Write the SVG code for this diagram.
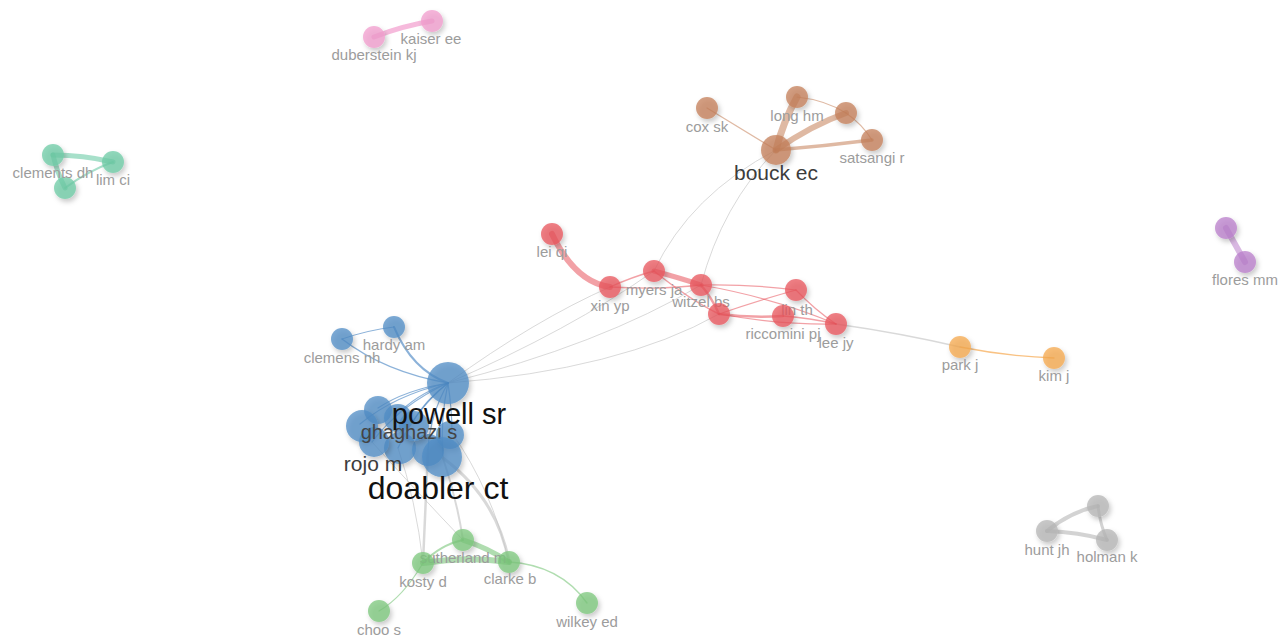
<svg xmlns="http://www.w3.org/2000/svg" width="1285" height="637" viewBox="0 0 1285 637">
<defs>
<filter id="sh" x="-50%" y="-50%" width="200%" height="200%">
<feDropShadow dx="2" dy="3" stdDeviation="2.5" flood-color="#000" flood-opacity="0.28"/>
</filter>
<style>
text{font-family:"Liberation Sans",Arial,sans-serif;text-anchor:middle;fill:#9c9c9c;font-size:15px}
.n{filter:url(#sh);fill-opacity:0.75}
.pk{fill:#f29ccd}.tl{fill:#6dcba6}.br{fill:#c47f58}.rd{fill:#e8545c}.or{fill:#f6a84e}.pu{fill:#b97dcb}.gy{fill:#b5b5b5}.bl{fill:#4f8cc6}.gr{fill:#7bc77b}
path{fill:none;stroke-linecap:round}
.e-pk{stroke:#f29ccd;stroke-opacity:.7}.e-tl{stroke:#6dcba6;stroke-opacity:.6}.e-br{stroke:#c47f58;stroke-opacity:.55}.e-rd{stroke:#e8545c;stroke-opacity:.55}
.e-or{stroke:#f6a84e;stroke-opacity:.7}.e-pu{stroke:#b97dcb;stroke-opacity:.55}.e-gy{stroke:#b5b5b5;stroke-opacity:.6}.e-bl{stroke:#3f7fbf;stroke-opacity:.6}
.e-gr{stroke:#7bc77b;stroke-opacity:.6}.e-x{stroke:#c4c4c4;stroke-opacity:.65}
.big{fill:#111}.mid{fill:#3c3c3c}.gh{fill:#444;font-size:20px}
.t21{font-size:21px}.t29{font-size:29px}.t32{font-size:32px}
</style>
</defs>
<rect width="1285" height="637" fill="#fff"/>
<g id="connectors">
<path class="e-pk" stroke-width="5" d="M374,37 Q402,26 432,21"/>
<path class="e-tl" stroke-width="5" d="M53,155 Q83,155 113,162"/>
<path class="e-tl" stroke-width="5" d="M53,155 Q57,172 65,188"/>
<path class="e-tl" stroke-width="2" d="M65,188 Q88,171 113,162"/>
<path class="e-gy" stroke-width="4" d="M1047,531 Q1070,512 1098,506"/>
<path class="e-gy" stroke-width="3" d="M1098,506 Q1100,524 1107,540"/>
<path class="e-gy" stroke-width="4" d="M1047,531 Q1078,532 1107,540"/>
<path class="e-pu" stroke-width="6" d="M1226,228 L1245,262"/>
<path class="e-or" stroke-width="1.3" d="M960,347 Q1005,356 1054,358"/>
<path class="e-x" stroke-width="1.3" d="M836,324 Q900,333 960,347"/>
<path class="e-x" stroke-width="1" d="M448,383 Q535,320 610,287"/>
<path class="e-x" stroke-width="1" d="M448,383 Q570,330 654,271"/>
<path class="e-x" stroke-width="1" d="M448,383 Q600,345 701,285"/>
<path class="e-x" stroke-width="1" d="M448,383 Q620,370 719,314"/>
<path class="e-x" stroke-width="1" d="M654,271 Q690,195 776,150"/>
<path class="e-x" stroke-width="1" d="M701,285 Q722,205 776,150"/>
<path class="e-br" stroke-width="7" d="M776,150 Q783,122 797,97"/>
<path class="e-br" stroke-width="6" d="M776,150 Q812,125 846,113"/>
<path class="e-br" stroke-width="3.5" d="M776,150 Q825,146 872,140"/>
<path class="e-br" stroke-width="1.2" d="M776,150 Q735,125 707,108"/>
<path class="e-br" stroke-width="1.2" d="M797,97 Q825,100 846,113"/>
<path class="e-br" stroke-width="1.2" d="M846,113 Q862,124 872,140"/>
<path class="e-rd" stroke-width="6" d="M552,234 Q575,282 610,287"/>
<path class="e-rd" stroke-width="1.3" d="M610,287 Q632,277 654,271"/>
<path class="e-rd" stroke-width="1.3" d="M610,287 Q660,290 701,285"/>
<path class="e-rd" stroke-width="5" d="M654,271 Q680,278 701,285"/>
<path class="e-rd" stroke-width="1.5" d="M654,271 Q690,300 719,314"/>
<path class="e-rd" stroke-width="2.5" d="M701,285 Q712,298 719,314"/>
<path class="e-rd" stroke-width="1.2" d="M701,285 Q750,284 796,290"/>
<path class="e-rd" stroke-width="1.2" d="M701,285 Q775,298 836,324"/>
<path class="e-rd" stroke-width="2.5" d="M719,314 Q750,318 783,316"/>
<path class="e-rd" stroke-width="1.2" d="M719,314 Q760,300 796,290"/>
<path class="e-rd" stroke-width="1.2" d="M719,314 Q780,325 836,324"/>
<path class="e-rd" stroke-width="1.5" d="M783,316 Q810,318 836,324"/>
<path class="e-rd" stroke-width="1.2" d="M796,290 Q815,310 836,324"/>
<path class="e-bl" stroke-width="1" d="M342,339 Q368,330 394,327"/>
<path class="e-bl" stroke-width="1.5" d="M342,339 Q385,372 448,383"/>
<path class="e-bl" stroke-width="2" d="M394,327 Q412,370 448,383"/>
<path class="e-bl" stroke-width="1.2" d="M448,383 Q405,390 378,408"/>
<path class="e-bl" stroke-width="1.2" d="M448,383 Q395,395 360,424"/>
<path class="e-bl" stroke-width="1.2" d="M448,383 Q400,405 372,442"/>
<path class="e-bl" stroke-width="1.2" d="M448,383 Q415,395 396,416"/>
<path class="e-bl" stroke-width="1.2" d="M448,383 Q425,400 412,423"/>
<path class="e-bl" stroke-width="1.2" d="M448,383 Q415,410 398,448"/>
<path class="e-bl" stroke-width="1.2" d="M448,383 Q430,415 428,450"/>
<path class="e-bl" stroke-width="1.2" d="M448,383 Q452,410 452,433"/>
<path class="e-bl" stroke-width="1.2" d="M448,383 Q440,420 443,458"/>
<path class="e-x" stroke-width="3" d="M443,458 Q497,498 509,562"/>
<path class="e-x" stroke-width="2" d="M443,458 Q457,500 463,540"/>
<path class="e-x" stroke-width="2.5" d="M428,450 L423,563"/>
<path class="e-x" stroke-width="1" d="M398,448 Q416,500 423,563"/>
<path class="e-x" stroke-width="1" d="M372,442 Q420,495 463,540"/>
<path class="e-x" stroke-width="1" d="M452,433 Q492,490 509,562"/>
<path class="e-gr" stroke-width="2" d="M423,563 Q440,545 463,540"/>
<path class="e-gr" stroke-width="6" d="M423,563 Q466,556 509,562"/>
<path class="e-gr" stroke-width="5" d="M463,540 Q488,548 509,562"/>
<path class="e-gr" stroke-width="1.2" d="M423,563 Q403,597 379,611"/>
<path class="e-gr" stroke-width="1.3" d="M509,562 Q560,565 587,603"/>
</g>
<g id="n-duberstein"><circle class="n pk" cx="374" cy="37" r="11"/><text x="374" y="60">duberstein kj</text></g>
<g id="n-kaiser"><circle class="n pk" cx="432" cy="21" r="11"/><text x="431" y="44">kaiser ee</text></g>
<g id="n-teal3"><circle class="n tl" cx="65" cy="188" r="11"/></g>
<g id="n-clements"><circle class="n tl" cx="53" cy="155" r="11"/><text x="53" y="178">clements dh</text></g>
<g id="n-lim"><circle class="n tl" cx="113" cy="162" r="11"/><text x="113" y="185">lim ci</text></g>
<g id="n-cox"><circle class="n br" cx="707" cy="108" r="11"/><text x="707" y="132">cox sk</text></g>
<g id="n-long"><circle class="n br" cx="797" cy="97" r="11"/><text x="797" y="121">long hm</text></g>
<g id="n-brown4"><circle class="n br" cx="846" cy="113" r="11"/></g>
<g id="n-satsangi"><circle class="n br" cx="872" cy="140" r="11"/><text x="872" y="163">satsangi r</text></g>
<g id="n-bouck"><circle class="n br" cx="776" cy="150" r="15"/><text class="mid t21" x="776" y="180">bouck ec</text></g>
<g id="n-lei"><circle class="n rd" cx="552" cy="234" r="11"/><text x="552" y="257">lei qi</text></g>
<g id="n-xin"><circle class="n rd" cx="610" cy="287" r="11"/><text x="610" y="311">xin yp</text></g>
<g id="n-myers"><circle class="n rd" cx="654" cy="271" r="11"/><text x="654" y="295">myers ja</text></g>
<g id="n-witzel"><circle class="n rd" cx="701" cy="285" r="11"/><text x="701" y="307">witzel bs</text></g>
<g id="n-red5"><circle class="n rd" cx="719" cy="314" r="11"/></g>
<g id="n-lin"><circle class="n rd" cx="796" cy="290" r="11"/><text x="797" y="315">lin th</text></g>
<g id="n-riccomini"><circle class="n rd" cx="783" cy="316" r="11"/><text x="783" y="339">riccomini pj</text></g>
<g id="n-lee"><circle class="n rd" cx="836" cy="324" r="11"/><text x="836" y="348">lee jy</text></g>
<g id="n-park"><circle class="n or" cx="960" cy="347" r="11"/><text x="960" y="370">park j</text></g>
<g id="n-kim"><circle class="n or" cx="1054" cy="358" r="11"/><text x="1054" y="381">kim j</text></g>
<g id="n-purple1"><circle class="n pu" cx="1226" cy="228" r="11"/></g>
<g id="n-flores"><circle class="n pu" cx="1245" cy="262" r="11"/><text x="1245" y="285">flores mm</text></g>
<g id="n-gray1"><circle class="n gy" cx="1098" cy="506" r="11"/></g>
<g id="n-hunt"><circle class="n gy" cx="1047" cy="531" r="11"/><text x="1047" y="555">hunt jh</text></g>
<g id="n-holman"><circle class="n gy" cx="1107" cy="540" r="11"/><text x="1107" y="562">holman k</text></g>
<g id="n-sutherland"><circle class="n gr" cx="463" cy="540" r="11"/><text x="463" y="563">sutherland m</text></g>
<g id="n-kosty"><circle class="n gr" cx="423" cy="563" r="11"/><text x="423" y="587">kosty d</text></g>
<g id="n-clarke"><circle class="n gr" cx="509" cy="562" r="11"/><text x="510" y="584">clarke b</text></g>
<g id="n-choo"><circle class="n gr" cx="379" cy="611" r="11"/><text x="379" y="635">choo s</text></g>
<g id="n-wilkey"><circle class="n gr" cx="587" cy="603" r="11"/><text x="587" y="627">wilkey ed</text></g>
<g id="n-clemens"><circle class="n bl" cx="342" cy="339" r="11"/><text x="342" y="363">clemens nh</text></g>
<g id="n-hardy"><circle class="n bl" cx="394" cy="327" r="11"/><text x="394" y="350">hardy am</text></g>
<g id="n-blueA"><circle class="n bl" cx="378" cy="410" r="14"/></g>
<g id="n-blueB"><circle class="n bl" cx="362" cy="426" r="16"/></g>
<g id="n-blueF"><circle class="n bl" cx="398" cy="418" r="14"/></g>
<g id="n-blueD"><circle class="n bl" cx="400" cy="448" r="16"/></g>
<g id="n-blueG"><circle class="n bl" cx="428" cy="450" r="16"/></g>
<g id="n-blueH"><circle class="n bl" cx="450" cy="435" r="14"/></g>
<g id="n-rojo"><circle class="n bl" cx="374" cy="442" r="15"/><text class="mid t21" x="373" y="471">rojo m</text></g>
<g id="n-ghaghazi"><circle class="n bl" cx="414" cy="426" r="15"/><text class="gh" x="409" y="439">ghaghazi s</text></g>
<g id="n-doabler"><circle class="n bl" cx="442" cy="457" r="20"/><text class="big t32" x="438" y="499">doabler ct</text></g>
<g id="n-powell"><circle class="n bl" cx="448" cy="383" r="21"/><text class="big t29" x="449" y="424">powell sr</text></g>
</svg>
